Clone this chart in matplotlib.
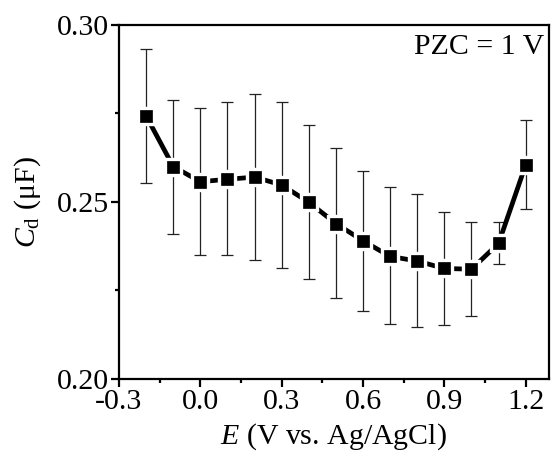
import matplotlib
matplotlib.use("Agg")
import matplotlib.pyplot as plt
from matplotlib.ticker import MultipleLocator, FixedLocator
import numpy as np

E = [-0.2, -0.1, 0.0, 0.1, 0.2, 0.3, 0.4, 0.5, 0.6, 0.7, 0.8, 0.9, 1.0, 1.1, 1.2]
Cd = [0.2743, 0.2600, 0.2557, 0.2564, 0.2570, 0.2548, 0.2499, 0.2439, 0.2390,
      0.2346, 0.2333, 0.2312, 0.2310, 0.2383, 0.2605]
Cd_hi = [0.2933, 0.2789, 0.2765, 0.2782, 0.2804, 0.2782, 0.2718, 0.2651, 0.2587,
         0.2541, 0.2521, 0.2471, 0.2442, 0.2443, 0.2731]
Cd_lo = [0.2554, 0.2410, 0.2351, 0.2349, 0.2336, 0.2313, 0.2282, 0.2228, 0.2192,
         0.2154, 0.2147, 0.2152, 0.2179, 0.2324, 0.2479]
xticks = [-0.3, 0.0, 0.3, 0.6, 0.9, 1.2]
xticklabels = ["-0.3", "0.0", "0.3", "0.6", "0.9", "1.2"]
yticks = [0.20, 0.25, 0.30]
yticklabels = ["0.20", "0.25", "0.30"]

plt.rcParams['font.family'] = ['Liberation Serif', 'DejaVu Serif']
plt.rcParams['mathtext.fontset'] = 'custom'
plt.rcParams['mathtext.rm'] = 'Liberation Serif'
plt.rcParams['mathtext.it'] = 'Liberation Serif:italic'

FS = 21.5
fig = plt.figure(figsize=(5.56, 4.61), dpi=100)
ax = fig.add_axes([0.214, 0.178, 0.773, 0.768])

Cd_a = np.array(Cd)
yerr = [Cd_a - np.array(Cd_lo), np.array(Cd_hi) - Cd_a]
ax.errorbar(E, Cd, yerr=yerr, fmt='none', ecolor='#222222', elinewidth=0.9,
            capsize=4, capthick=0.9, zorder=2)
ax.plot(E, Cd, '-', color='black', lw=3.4, zorder=3, solid_capstyle='butt')
ax.plot(E, Cd, 's', color='white', ms=13, mec='white', zorder=4)
ax.plot(E, Cd, 's', color='black', ms=9.3, mec='black', mew=0.5, zorder=5)

ax.set_xlim(-0.3, 1.285)
ax.set_ylim(0.20, 0.30)
ax.xaxis.set_major_locator(FixedLocator(xticks))
ax.set_xticklabels(xticklabels)
ax.xaxis.set_minor_locator(MultipleLocator(0.15))
ax.yaxis.set_major_locator(FixedLocator(yticks))
ax.set_yticklabels(yticklabels)
ax.yaxis.set_minor_locator(MultipleLocator(0.025))

for s in ax.spines.values():
    s.set_linewidth(1.6)
ax.tick_params(which='major', direction='out', length=6, width=1.6, labelsize=FS, pad=1)
ax.tick_params(which='minor', direction='out', length=3, width=1.6)
ax.tick_params(top=False, right=False, which='both')

ax.set_xlabel(r"$\mathit{E}$ (V vs. Ag/AgCl)", fontsize=FS, labelpad=5)
ax.set_ylabel(r"$\mathit{C}_{\mathrm{d}}$ ($\mathrm{\mu}$F)", fontsize=FS, labelpad=10)
ax.text(0.99, 0.975, "PZC = 1 V", transform=ax.transAxes, ha='right', va='top', fontsize=FS)

fig.savefig("out.png", dpi=100)
